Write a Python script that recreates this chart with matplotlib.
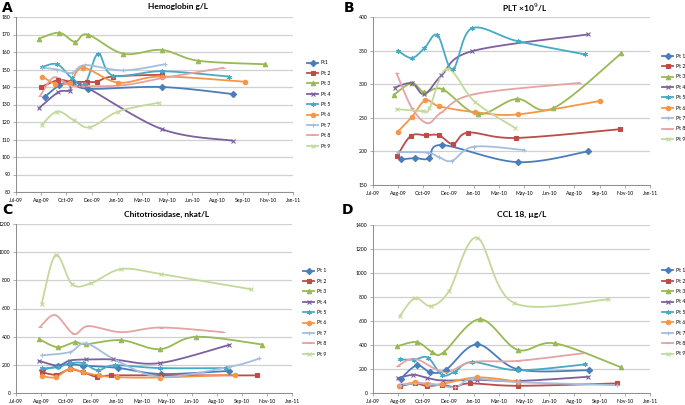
import numpy as np
import matplotlib
matplotlib.use("Agg")
import matplotlib.pyplot as plt
import matplotlib.dates as mdates
from matplotlib.lines import Line2D

plt.rcParams['font.family'] = ['Lato', 'DejaVu Sans']

# x axis runs from 6 Jul 2009 in steps of 50 days (Excel date axis)
start = np.datetime64('2009-07-06')

patients = ['Pt 1', 'Pt 2', 'Pt 3', 'Pt 4', 'Pt 5', 'Pt 6', 'Pt 7', 'Pt 8', 'Pt 9']
colors = ['#4A7EBB', '#BE4B48', '#98B954', '#7D60A0', '#46AAC5',
          '#F79646', '#A5BEDD', '#E5A3A2', '#C3D99C']
markers = ['D', 's', '^', 'x', (6, 2, 0), 'o', '+', '_', 'x']

# days after 6 Jul 2009, one list per patient
hb_days = [[58, 86, 111, 142, 289, 430],
           [50, 84, 109, 140, 160, 192, 289],
           [46, 86, 117, 142, 213, 289, 362, 495],
           [46, 84, 107, 125, 289, 430],
           [52, 82, 111, 137, 163, 193, 289, 422],
           [52, 78, 107, 133, 203, 289, 455],
           [52, 82, 111, 137, 213, 296],
           [48, 75, 107, 142, 213, 289, 412],
           [51, 82, 115, 147, 203, 283]]
hb_vals = [[134.5, 141, 143, 139, 140, 136],
           [140, 144, 143, 143, 143, 146, 147],
           [167.7, 171, 165.8, 170, 159, 161.2, 155, 153],
           [128, 137, 138, 142, 116, 109.3],
           [151.5, 153, 145, 142, 159, 146.5, 149, 146],
           [146, 142, 142.5, 151, 142.5, 146, 143],
           [151, 150, 148, 152.5, 149.5, 153],
           [135, 145.5, 141, 140.5, 141, 145, 151],
           [118.3, 126, 121, 117, 126, 131]]

plt_days = [[56, 83, 111, 137, 287, 427],
            [48, 75, 105, 131, 159, 189, 283, 490],
            [41, 77, 102, 138, 208, 285, 357, 493],
            [43, 77, 102, 136, 196, 426],
            [49, 77, 102, 128, 158, 196, 287, 420],
            [49, 77, 104, 132, 202, 287, 450],
            [49, 109, 132, 157, 200, 300],
            [47, 77, 108, 136, 200, 410],
            [47, 100, 112, 147, 202, 282]]
plt_vals = [[188, 190, 189.5, 209.5, 184, 200],
            [193.5, 223, 224, 224, 211, 228, 220, 233],
            [284, 301.5, 288, 292.5, 255.5, 278, 264, 346],
            [295, 301.5, 285, 313, 349, 374],
            [350, 339, 353.5, 373, 322, 383, 364, 344.5],
            [229, 251, 276, 267, 258.5, 255, 275],
            [199, 198, 191, 186, 207, 202],
            [316, 265, 242, 258, 285, 302],
            [263, 260, 264, 323, 274, 235]]

chit_days = [[52, 83, 107, 133, 203, 289, 425],
             [51, 80, 107, 133, 161, 190, 289, 480],
             [46, 83, 117, 140, 210, 286, 359, 491],
             [46, 83, 107, 140, 193, 286, 425],
             [52, 83, 107, 133, 163, 197, 286, 419],
             [52, 79, 107, 133, 165, 201, 286, 436],
             [51, 107, 140, 203, 289, 425, 485],
             [48, 78, 115, 144, 210, 289, 412],
             [51, 79, 112, 150, 210, 289, 468]]
chit_vals = [[165, 190, 205, 195, 178, 135, 157],
             [148, 130, 168, 148, 115, 125, 125, 125],
             [382, 325, 361, 347, 375, 311, 399, 344],
             [228, 195, 230, 238, 238, 212, 342],
             [175, 183, 210, 212, 162, 197, 177, 177],
             [120, 112, 172, 148, 125, 112, 110, 130],
             [267, 290, 352, 225, 115, 185, 245],
             [470, 553, 420, 475, 432, 465, 432],
             [632, 980, 772, 780, 880, 845, 737]]

ccl_days = [[55, 87, 114, 145, 207, 288, 428],
            [53, 83, 108, 137, 163, 192, 288, 485],
            [47, 87, 118, 140, 212, 287, 361, 492],
            [49, 80, 108, 139, 206, 288, 427],
            [53, 82, 109, 137, 162, 197, 287, 420],
            [51, 83, 108, 137, 206, 288],
            [53, 83, 114, 163, 197, 288, 485],
            [49, 83, 142, 196, 288, 415],
            [53, 83, 115, 151, 206, 280, 467]]
ccl_vals = [[120, 230, 172, 195, 405, 197, 190],
            [56, 80, 58, 68, 50, 80, 60, 80],
            [388, 424, 340, 338, 615, 360, 414, 215],
            [122, 152, 125, 104, 110, 100, 135],
            [280, 278, 295, 150, 178, 258, 190, 238],
            [60, 88, 72, 75, 130, 95],
            [70, 80, 78, 48, 118, 90, 65],
            [223, 285, 175, 258, 268, 330],
            [640, 790, 725, 850, 1295, 750, 780]]

W, H = 685, 405


def smooth(x, y, n=25):
    # smoothed line like Excel: bezier segments, control points from neighbours
    pts = np.column_stack([x, y]).astype(float)
    t = np.linspace(0, 1, n)[1:, None]
    out = [pts[:1]]
    for i in range(len(pts) - 1):
        p0 = pts[max(i - 1, 0)]
        p1 = pts[i]
        p2 = pts[i + 1]
        p3 = pts[min(i + 2, len(pts) - 1)]
        c1 = p1 + (p2 - p0) / 6
        c2 = p2 - (p3 - p1) / 6
        out.append((1 - t)**3 * p1 + 3 * (1 - t)**2 * t * c1
                   + 3 * (1 - t) * t**2 * c2 + t**3 * p2)
    out = np.vstack(out)
    return out[:, 0], out[:, 1]


def panel(box, days, vals, ymax, ystep, ymin, title, tpos, letter, lpos,
          labels, leg_x, leg_y):
    l, t, r, b = box
    ax = fig.add_axes([l / W, 1 - b / H, (r - l) / W, (b - t) / H])
    for i in range(9):
        d = mdates.date2num(start + np.array(days[i], dtype='timedelta64[D]'))
        xs, ys = smooth(d, vals[i])
        ax.plot(xs, ys, color=colors[i], lw=1.3, zorder=3)
        ax.plot(d, vals[i], ls='none', marker=markers[i], ms=3.2,
                color=colors[i], mec=colors[i], mew=0.8, zorder=4)
    ticks = mdates.date2num(start + np.arange(0, 551, 50).astype('timedelta64[D]'))
    ax.set_xticks(ticks)
    ax.set_xlim(ticks[0], ticks[-1])
    ax.xaxis.set_major_formatter(mdates.DateFormatter('%b-%y'))
    ax.set_ylim(ymin, ymax)
    ax.set_yticks(np.arange(ymin, ymax + 1, ystep))
    ax.grid(axis='y', color='#D0D0D0', lw=0.9)
    ax.set_axisbelow(True)
    for s in ['top', 'right']:
        ax.spines[s].set_visible(False)
    for s in ['left', 'bottom']:
        ax.spines[s].set_color('#8C8C8C')
        ax.spines[s].set_linewidth(0.7)
    ax.tick_params(labelsize=3.7, length=2, width=0.5, color='#8C8C8C', pad=2)
    handles = [Line2D([], [], color=colors[i], lw=1.3, marker=markers[i],
                      ms=3.2, mew=0.8) for i in range(9)]
    ax.legend(handles, labels, loc='center left', bbox_to_anchor=(leg_x, leg_y),
              frameon=False, fontsize=3.7, handlelength=2.2, handletextpad=0.5,
              labelspacing=1.05, borderpad=0, borderaxespad=0)
    fig.text(tpos[0] / W, 1 - tpos[1] / H, title, ha='center', va='center',
             fontsize=6, fontweight='bold')
    fig.text(lpos[0] / W, 1 - lpos[1] / H, letter, ha='left', va='top',
             fontsize=10, fontweight='bold', family='DejaVu Sans')
    return ax


fig = plt.figure(figsize=(W / 100, H / 100), dpi=100)

labels_a = ['Pt1'] + patients[1:]
panel((16, 17, 293, 192), hb_days, hb_vals, 180, 10, 80,
      'Hemoglobin g/L', (178, 7), 'A', (2, 1), labels_a, 1.05, 0.5)
panel((373, 17, 650, 185), plt_days, plt_vals, 400, 50, 150,
      'PLT \u00d710$^9$/L', (525, 8), 'B', (344, 1), patients, 1.043, 0.52)
panel((16, 224, 292, 393), chit_days, chit_vals, 1200, 200, 0,
      'Chitotriosidase, nkat/L', (167, 214), 'C', (2, 203), patients, 1.04, 0.476)
panel((373, 225, 650, 393), ccl_days, ccl_vals, 1400, 200, 0,
      'CCL 18, \u00b5g/L', (522, 214), 'D', (342, 203), patients, 1.043, 0.48)

fig.savefig('out.png', dpi=100)
